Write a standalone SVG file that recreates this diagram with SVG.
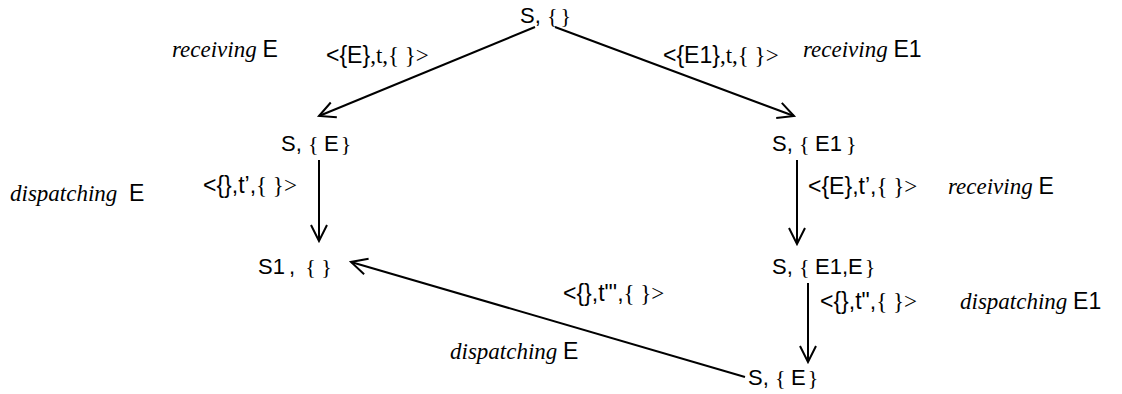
<svg xmlns="http://www.w3.org/2000/svg" width="1122" height="394" viewBox="0 0 1122 394">
<style>
.n{font-family:"Liberation Sans",Arial,sans-serif;font-size:22px;fill:#000}
.s{font-family:"Liberation Serif","Times New Roman",serif}
.l{font-family:"Liberation Sans",Arial,sans-serif;font-size:23px;fill:#000}
.i{font-family:"Liberation Serif","Times New Roman",serif;font-style:italic;font-size:23px}
.c{stroke:#000;stroke-width:2;fill:none}
</style>
<defs>
<marker id="a" viewBox="0 0 20 20" refX="18" refY="10" markerWidth="20" markerHeight="20" markerUnits="userSpaceOnUse" orient="auto">
<path d="M2,2 L18,10 L2,18" fill="none" stroke="#000" stroke-width="2"/>
</marker>
</defs>
<g id="connectors">
<line class="c" x1="535" y1="27" x2="319" y2="116" marker-end="url(#a)"/>
<line class="c" x1="555" y1="27" x2="794" y2="116" marker-end="url(#a)"/>
<line class="c" x1="319" y1="160" x2="319" y2="241" marker-end="url(#a)"/>
<line class="c" x1="797" y1="160" x2="797" y2="244" marker-end="url(#a)"/>
<line class="c" x1="808" y1="283" x2="808" y2="362" marker-end="url(#a)"/>
<line class="c" x1="745" y1="377" x2="351" y2="262" marker-end="url(#a)"/>
</g>
<g id="n0"><text class="n" x="520" y="23">S, <tspan class="s">{</tspan><tspan class="s" dx="3">}</tspan></text></g>
<g id="n1"><text class="n" x="281" y="151">S, <tspan class="s">{ </tspan>E<tspan class="s" dx="2">}</tspan></text></g>
<g id="n2"><text class="n" x="772" y="151">S, <tspan class="s">{ </tspan>E1<tspan class="s" dx="4">}</tspan></text></g>
<g id="n3"><text class="n" x="258" y="274">S1<tspan dx="4">,</tspan> <tspan class="s" dx="4">{ }</tspan></text></g>
<g id="n4"><text class="n" x="772" y="274">S, <tspan class="s">{ </tspan>E1,E<tspan class="s" dx="2">}</tspan></text></g>
<g id="n5"><text class="n" x="748" y="385">S, <tspan class="s">{ </tspan>E<tspan class="s" dx="2">}</tspan></text></g>
<g id="labels">
<text class="l" x="172" y="57"><tspan class="i">receiving </tspan>E</text>
<text class="l" x="326" y="63">&lt;{E}<tspan class="s">,t,{ }&gt;</tspan></text>
<text class="l" x="663" y="63">&lt;{E1}<tspan class="s">,t,{ }&gt;</tspan></text>
<text class="l" x="803" y="57"><tspan class="i">receiving </tspan>E1</text>
<text class="l" x="10" y="201"><tspan class="i">dispatching </tspan><tspan dx="6">E</tspan></text>
<text class="l" x="203" y="193">&lt;{},t’,<tspan class="s">{ }&gt;</tspan></text>
<text class="l" x="808" y="194">&lt;{E},t’,<tspan class="s">{ }&gt;</tspan></text>
<text class="l" x="948" y="194"><tspan class="i">receiving </tspan>E</text>
<text class="l" x="820" y="309">&lt;{},t",<tspan class="s">{ }&gt;</tspan></text>
<text class="l" x="960" y="309"><tspan class="i">dispatching </tspan>E1</text>
<text class="l" x="563" y="301">&lt;{},t"',<tspan class="s">{ }&gt;</tspan></text>
<text class="l" x="450" y="359"><tspan class="i">dispatching </tspan>E</text>
</g>
</svg>
